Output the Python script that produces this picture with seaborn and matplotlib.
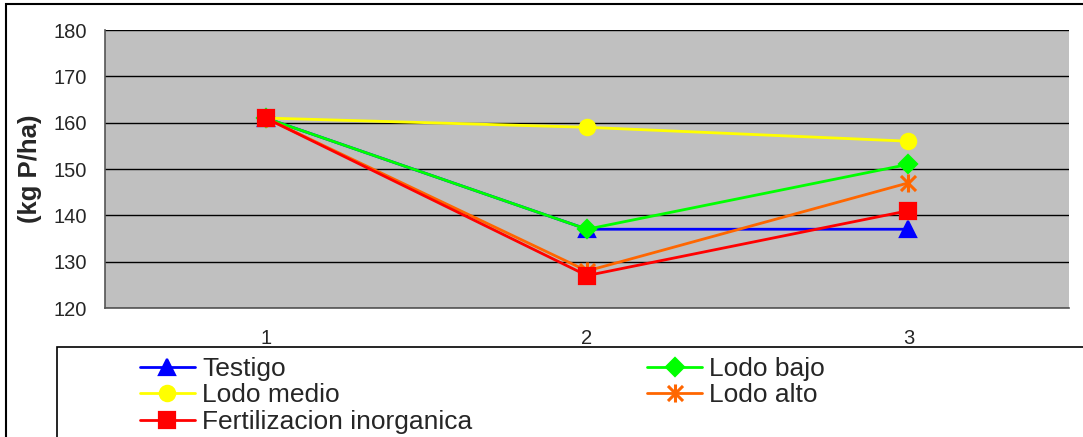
import matplotlib
matplotlib.use("Agg")
import matplotlib.pyplot as plt
import seaborn as sns
import pandas as pd
from matplotlib.patches import Rectangle
from matplotlib.path import Path

categories = [1, 2, 3]
series_names = ["Testigo", "Lodo bajo", "Lodo medio", "Lodo alto", "Fertilizacion inorganica"]
testigo = [161, 137, 137]
lodo_bajo = [161, 137, 151]
lodo_medio = [161, 159, 156]
lodo_alto = [161, 128, 147]
fertilizacion = [161, 127, 141]
y_ticks = [120, 130, 140, 150, 160, 170, 180]

values = [testigo, lodo_bajo, lodo_medio, lodo_alto, fertilizacion]
rows = []
for name, vals in zip(series_names, values):
    for c, v in zip(categories, vals):
        rows.append({"serie": name, "x": c, "y": v})
df = pd.DataFrame(rows)

star = Path([(-1, -1), (1, 1), (-1, 1), (1, -1), (0, -1.2), (0, 1.2)],
            [Path.MOVETO, Path.LINETO, Path.MOVETO, Path.LINETO, Path.MOVETO, Path.LINETO])

styles = {
    "Testigo": dict(color="#0000FF", marker="^", ms=11, mew=1.6),
    "Lodo bajo": dict(color="#00FF00", marker="D", ms=9, mew=1.6),
    "Lodo medio": dict(color="#FFFF00", marker="o", ms=11, mew=1.6),
    "Lodo alto": dict(color="#FF6600", marker=star, ms=13, mew=2.2),
    "Fertilizacion inorganica": dict(color="#FF0000", marker="s", ms=11, mew=1.6),
}

sns.set_style("white")
plt.rcParams["font.family"] = ["Liberation Sans", "DejaVu Sans"]

fig = plt.figure(figsize=(10.83, 4.37), dpi=100)
ax = fig.add_axes([105 / 1083, 1 - 308 / 437, (1069 - 105) / 1083, (308 - 30) / 437])
ax.set_facecolor("#C0C0C0")

handles = {}
for name in series_names:
    st = styles[name]
    sub = df[df["serie"] == name]
    sns.lineplot(data=sub, x="x", y="y", ax=ax, color=st["color"], marker=st["marker"],
                 markersize=st["ms"], markeredgecolor=st["color"], markeredgewidth=st["mew"],
                 linewidth=2, label=name, legend=False)
    handles[name] = ax.lines[-1]

ax.set_xlim(0.5, 3.5)
ax.set_ylim(120, 180)
ax.set_yticks(y_ticks)
ax.set_yticklabels([str(t) for t in y_ticks], fontsize=14.5)
ax.set_xticks([0.5, 1.5, 2.5, 3.5])
ax.set_xticklabels([])
ax.set_xticks(categories, minor=True)
ax.set_xticklabels([str(c) for c in categories], minor=True, fontsize=14.5)
ax.tick_params(axis="x", which="minor", length=0, pad=15)
ax.tick_params(axis="x", which="major", length=5, direction="out", color="#404040")
ax.tick_params(axis="y", length=5, direction="out", color="#404040", pad=8)
ax.grid(axis="y", color="black", linewidth=1)
ax.set_axisbelow(True)
ax.set_xlabel("")
ax.set_ylabel("(kg P/ha)", fontsize=18.5, fontweight="bold", labelpad=8)
for s in ["top", "right"]:
    ax.spines[s].set_visible(False)
for s in ["left", "bottom"]:
    ax.spines[s].set_color("#555555")
    ax.spines[s].set_linewidth(1.2)

# outer border
fig.patches.append(Rectangle((6 / 1083, -0.1), 1.2, 1 - 4 / 437 + 0.1, transform=fig.transFigure,
                             fill=False, edgecolor="black", linewidth=1.5))
# legend box
fig.patches.append(Rectangle((57 / 1083, -0.1), 1.2, 1 - 347 / 437 + 0.1, transform=fig.transFigure,
                             fill=False, edgecolor="black", linewidth=1.2))

order = ["Testigo", "Lodo medio", "Fertilizacion inorganica", "Lodo bajo", "Lodo alto"]
leg = fig.legend([handles[n] for n in order], order, loc="upper left",
                 bbox_to_anchor=(140 / 1083, 1 - 357 / 437), ncol=2, frameon=False,
                 fontsize=19, handlelength=2.08, handletextpad=0.27, columnspacing=6.63,
                 labelspacing=0.09, borderaxespad=0, borderpad=0)

fig.savefig("out.png", dpi=100)
